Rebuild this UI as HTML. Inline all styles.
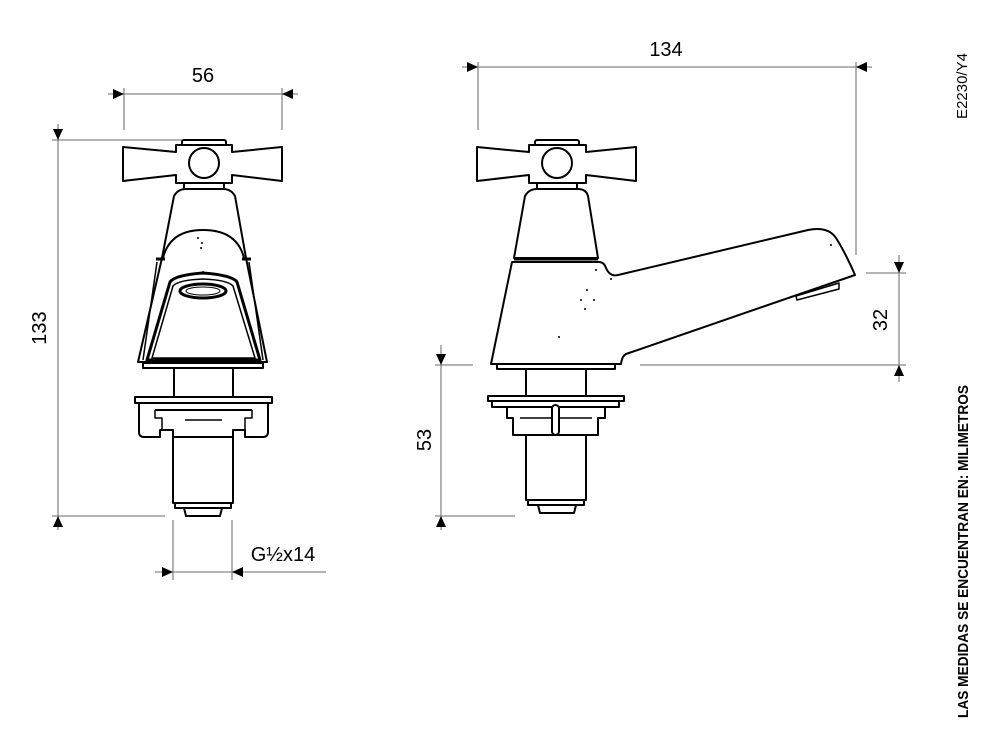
<!DOCTYPE html>
<html><head><meta charset="utf-8"><style>
html,body{margin:0;padding:0;background:#fff;}
svg{display:block;}
text{font-family:"Liberation Sans",sans-serif;}
</style></head><body>
<svg width="1000" height="750" viewBox="0 0 1000 750" xmlns="http://www.w3.org/2000/svg">
<g stroke="#888" stroke-width="1.3" fill="none">
<line x1="124" y1="88" x2="124" y2="130"/><line x1="282" y1="88" x2="282" y2="130"/>
<line x1="108" y1="94" x2="298" y2="94"/>
<line x1="478" y1="62" x2="478" y2="130"/><line x1="856" y1="62" x2="856" y2="255"/>
<line x1="462" y1="67" x2="872" y2="67"/>
<line x1="52" y1="140" x2="185" y2="140"/><line x1="52" y1="516" x2="165" y2="516"/>
<line x1="58" y1="124" x2="58" y2="530"/>
<line x1="435" y1="365" x2="473" y2="365"/><line x1="435" y1="516" x2="515" y2="516"/>
<line x1="441" y1="345" x2="441" y2="530"/>
<line x1="866" y1="273" x2="906" y2="273"/><line x1="640" y1="365" x2="906" y2="365"/>
<line x1="899" y1="255" x2="899" y2="382"/>
<line x1="173" y1="520" x2="173" y2="580"/><line x1="232" y1="520" x2="232" y2="580"/>
<line x1="155" y1="572" x2="326" y2="572"/>
</g>
<g stroke="none" fill="#000">
<path d="M124,94l-11,-5v10z"/><path d="M282,94l11,-5v10z"/>
<path d="M478,67l-11,-5v10z"/><path d="M856,67l11,-5v10z"/>
<path d="M58,140l-5,-11h10z"/><path d="M58,516l-5,11h10z"/>
<path d="M441,365l-5,-11h10z"/><path d="M441,516l-5,11h10z"/>
<path d="M899,273l-5,-11h10z"/><path d="M899,365l-5,11h10z"/>
<path d="M173,572l-11,-5v10z"/><path d="M232,572l11,-5v10z"/>
</g>
<g font-size="20" fill="#000">
<text x="203" y="82" text-anchor="middle">56</text>
<text x="666" y="56" text-anchor="middle">134</text>
<text x="283" y="561" text-anchor="middle">G½x14</text>
<text transform="translate(46,328) rotate(-90)" text-anchor="middle">133</text>
<text transform="translate(431,440) rotate(-90)" text-anchor="middle">53</text>
<text transform="translate(887,320) rotate(-90)" text-anchor="middle">32</text>
<text transform="translate(967,86) rotate(-90)" text-anchor="middle" font-size="15">E2230/Y4</text>
<text transform="translate(968,718) rotate(-90)" font-size="15" font-weight="bold" textLength="333" lengthAdjust="spacingAndGlyphs">LAS MEDIDAS SE ENCUENTRAN EN: MILIMETROS</text>
</g>

<!-- LEFT TAP -->
<g stroke="#000" stroke-width="2" fill="#fff" stroke-linejoin="round">
<rect x="182" y="140" width="44" height="6" rx="2"/>
<path d="M123,147L176,152V145H232V152L282,147V181L232,175V183H176V175L123,181Z"/>
<circle cx="204" cy="163" r="15"/>
<rect x="184" y="183" width="40" height="7"/>
<path d="M174,196Q178,189 186,189H223Q231,189 235,196L246,258L267,362H138L162,258Z"/>
<path d="M163,258Q170,230 203,230Q237,230 244,258" fill="none"/>
<line x1="156" y1="259" x2="165" y2="259" stroke-width="3"/>
<line x1="242" y1="259" x2="251" y2="259" stroke-width="3"/>
<path d="M157,262L143,360M249,262L263,360" fill="none" stroke-width="1.5"/>
<path d="M147,360L170,282Q175,275 203,273Q232,275 237,282L260,360Z" stroke-width="3"/>
<path d="M152,358L173,286Q178,280 203,279Q228,280 233,286L255,358Z" fill="none" stroke-width="1.5"/>
<ellipse cx="203" cy="291" rx="23" ry="7" stroke-width="3"/>
<ellipse cx="203" cy="291" rx="17" ry="4" stroke-width="1"/>
<rect x="143" y="363" width="120" height="5"/>
<rect x="174" y="368" width="59" height="30"/>
<rect x="135" y="397" width="137" height="6"/>
<path d="M139,403H268V432Q268,437 263,437H245V430H233V437H173V430H160V437H144Q139,437 139,432Z"/>
<line x1="155" y1="410" x2="252" y2="410"/>
<path d="M155,410V418H162V430M252,410V418H245V430" fill="none" stroke-width="1.5"/>
<line x1="185" y1="420" x2="222" y2="420" stroke-width="1.5"/>
<rect x="173" y="437" width="60" height="66"/>
<rect x="175" y="503" width="56" height="5"/>
<path d="M184,508H222L220,516H186Z"/>
</g>
<g fill="#000"><circle cx="198" cy="238" r="1"/><circle cx="202" cy="243" r="1"/><circle cx="201" cy="248" r="1"/><circle cx="203" cy="272" r="1"/></g>

<!-- RIGHT TAP -->
<g stroke="#000" stroke-width="2" fill="#fff" stroke-linejoin="round">
<rect x="535" y="140" width="44" height="6" rx="2"/>
<path d="M477,147L529,152V145H586V152L636,147V181L586,175V183H529V175L477,181Z"/>
<circle cx="557" cy="163" r="15"/>
<rect x="537" y="183" width="40" height="7"/>
<path d="M525,196Q529,189 537,189H578Q586,189 588,196L598,258H514Z"/>
<path d="M512,262H599Q604,262 606,268Q610,277 618,275L808,230Q828,226 836,238Q845,252 855,275L626,354Q622,356 621,364H491Z"/>
<line x1="514" y1="259" x2="598" y2="259" stroke-width="3"/>
<path d="M796,296L839,283L839,289L797,300Z" stroke-width="1.5"/>
<rect x="497" y="364" width="118" height="5"/>
<rect x="526" y="369" width="60" height="28"/>
<rect x="488" y="396" width="136" height="5"/>
<rect x="492" y="401" width="127" height="6"/>
<path d="M507,407H605V418H598V435H513V418H507Z"/>
<line x1="520" y1="418" x2="592" y2="418" stroke-width="1.5"/>
<rect x="552" y="405" width="7" height="30" rx="3.5"/>
<rect x="526" y="435" width="60" height="65"/>
<rect x="528" y="500" width="56" height="5"/>
<path d="M538,505H576L574,513H540Z"/>
</g>
<g fill="#000"><circle cx="596" cy="270" r="1"/><circle cx="611" cy="279" r="1"/><circle cx="587" cy="290" r="1"/><circle cx="581" cy="300" r="1"/><circle cx="594" cy="300" r="1"/><circle cx="585" cy="309" r="1"/><circle cx="559" cy="337" r="1"/><circle cx="831" cy="245" r="1"/></g>
</svg>
</body></html>
